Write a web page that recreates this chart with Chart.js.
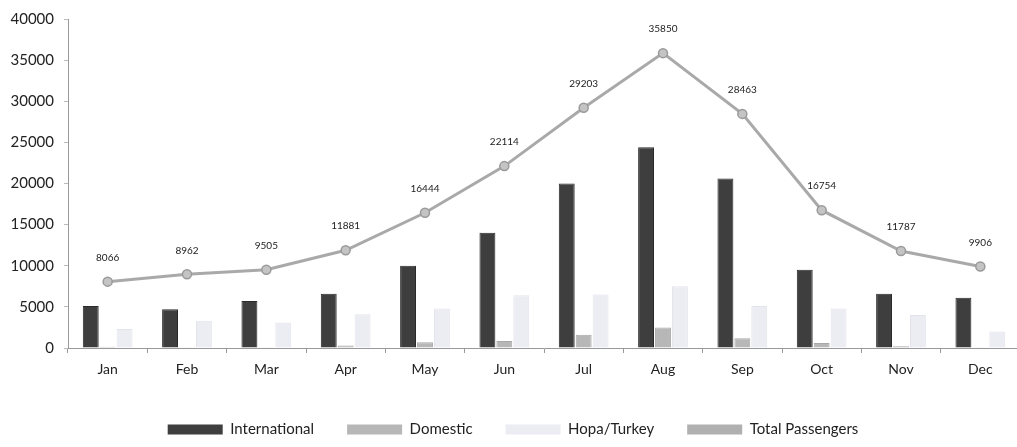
<!DOCTYPE html>
<html>
<head>
<meta charset="utf-8">
<script src="https://cdn.jsdelivr.net/npm/chart.js@4/dist/chart.umd.min.js"></script>
<style>
    html, body { margin: 0; padding: 0; background: #fff; overflow: hidden; }
    #wrap { width: 1026px; height: 447px; position: relative; }
</style>
</head>
<body>
<div id="wrap"><canvas id="chart"></canvas></div>
<script>
// Chart data
const months = ['Jan', 'Feb', 'Mar', 'Apr', 'May', 'Jun', 'Jul', 'Aug', 'Sep', 'Oct', 'Nov', 'Dec'];
const international = [5100, 4700, 5700, 6600, 10000, 14000, 20000, 24400, 20600, 9500, 6600, 6100];
const domestic = [150, 100, 100, 300, 700, 850, 1600, 2500, 1200, 600, 200, 100];
const hopaTurkey = [2300, 3300, 3100, 4100, 4800, 6400, 6500, 7500, 5100, 4800, 4000, 2000];
const totalPassengers = [8066, 8962, 9505, 11881, 16444, 22114, 29203, 35850, 28463, 16754, 11787, 9906];

const FONT = 'Lato, "Open Sans", sans-serif';

// Draw the value above each point of the total line
const pointLabels = {
    id: 'pointLabels',
    afterDatasetsDraw(chart) {
        const ctx = chart.ctx;
        const meta = chart.getDatasetMeta(3);
        ctx.save();
        ctx.font = '10px ' + FONT;
        ctx.fillStyle = '#222';
        ctx.textAlign = 'center';
        ctx.textBaseline = 'middle';
        meta.data.forEach((pt, i) => {
            ctx.fillText(String(totalPassengers[i]), pt.x, pt.y - 24);
        });
        ctx.restore();
    }
};

new Chart(document.getElementById('chart'), {
    type: 'bar',
    data: {
        labels: months,
        datasets: [
            {
                label: 'International',
                data: international,
                backgroundColor: '#3e3e3e',
                borderColor: '#2a2a2a',
                borderWidth: 1
            },
            {
                label: 'Domestic',
                data: domestic,
                backgroundColor: '#b7b7b7',
                borderColor: '#a8a8a8',
                borderWidth: 1
            },
            {
                label: 'Hopa/Turkey',
                data: hopaTurkey,
                backgroundColor: '#ececf3',
                borderColor: '#e3e3ec',
                borderWidth: 1
            },
            {
                type: 'line',
                label: 'Total Passengers',
                data: totalPassengers,
                borderColor: '#a9a9a9',
                backgroundColor: '#bdbdbd',
                borderWidth: 3,
                pointRadius: 4.5,
                pointBorderColor: '#9a9a9a',
                pointBackgroundColor: '#c4c4c4',
                pointBorderWidth: 1.5,
                tension: 0
            }
        ]
    },
    options: {
        responsive: true,
        maintainAspectRatio: false,
        animation: false,
        layout: { padding: { top: 11, right: 0, bottom: 0, left: 0 } },
        datasets: {
            bar: { categoryPercentage: 0.64, barPercentage: 0.94 }
        },
        scales: {
            x: {
                grid: { drawOnChartArea: false, drawTicks: true, tickLength: 5, color: '#999' },
                border: { color: '#999', width: 1 },
                ticks: { color: '#222', font: { family: FONT, size: 14 }, padding: 8 },
                afterFit(scale) { scale.height = 41; }
            },
            y: {
                min: 0,
                max: 40000,
                grid: { drawOnChartArea: false, drawTicks: true, tickLength: 4, color: '#bbb' },
                border: { color: '#999', width: 1 },
                ticks: {
                    stepSize: 5000,
                    color: '#222',
                    font: { family: FONT, size: 15 },
                    padding: 10,
                    callback: v => String(v)
                },
                afterFit(scale) { scale.width = 68; }
            }
        },
        plugins: {
            tooltip: { enabled: false },
            legend: {
                position: 'bottom',
                labels: {
                    boxWidth: 55,
                    boxHeight: 10,
                    padding: 33,
                    color: '#222',
                    font: { family: FONT, size: 15 },
                    generateLabels(chart) {
                        const items = Chart.defaults.plugins.legend.labels.generateLabels(chart);
                        items.forEach(item => {
                            item.lineWidth = 0;
                            if (item.datasetIndex === 3) item.fillStyle = '#b0b0b0';
                        });
                        return items;
                    }
                }
            }
        }
    },
    plugins: [pointLabels]
});
</script>
</body>
</html>
